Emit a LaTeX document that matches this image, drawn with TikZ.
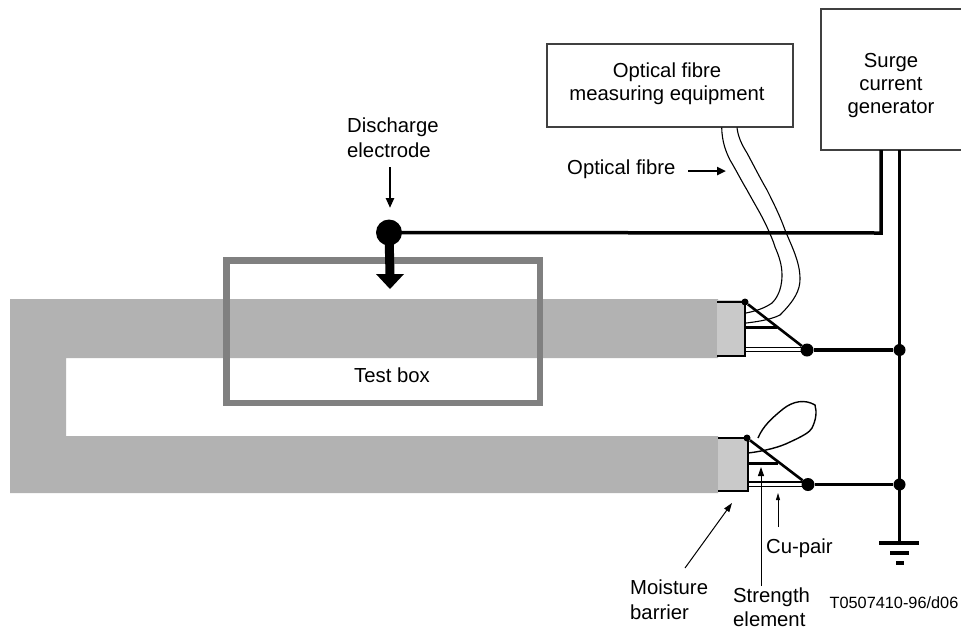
\documentclass[tikz,border=0pt]{standalone}
\usepackage{fontspec}
\setmainfont{Liberation Sans}
\usetikzlibrary{arrows.meta}
\tikzset{
  boxnode/.style={draw=black!75,line width=1.3pt,fill=white,anchor=north west,inner sep=0pt,outer sep=0pt},
  lab/.style={align=center,inner sep=0pt,font=\fontsize{20.3}{23}\selectfont},
  labl/.style={align=left,inner sep=0pt,anchor=north west,font=\fontsize{20.3}{25}\selectfont},
  wire/.style={line width=3.5pt,black},
  thinwire/.style={line width=1.2pt,black},
  fibre/.style={line width=1.1pt,black},
  dotn/.style={circle,fill=black,inner sep=0pt,minimum size=#1},
  ptr/.style={line width=1pt,black,-{Triangle[length=9pt,width=6pt]}},
}
\begin{document}
\begin{tikzpicture}[x=1pt,y=-1pt]
\useasboundingbox (0,0) rectangle (961,630);
% cable
\fill[black!30] (10,299) -- (718,299) -- (718,358) -- (66,358) -- (66,436) -- (718,436) -- (718,493) -- (10,493) -- cycle;
% barriers
\fill[black!21] (717,300) rectangle (745,356);
\fill[black!21] (718,438) rectangle (748,491);
\draw[line width=2.2pt] (717,302) -- (745,302) -- (745,356) -- (717,356);
\draw[line width=2.2pt] (718,438) -- (748,438) -- (748,491) -- (718,491);
% test box
\node[draw=black!50,line width=6.5pt,minimum width=313.5pt,minimum height=142.5pt,inner sep=0pt,outer sep=0pt,anchor=north west] (testbox) at (226.25,260.25) {};
\node[lab] (testlab) at (392,375) {Test box};
% equipment
\node[boxnode,minimum width=246pt,minimum height=83pt] (optbox) at (547,44) {};
\node[lab] (optlab) at (667,84) {Optical fibre\\measuring equipment};
\node[minimum width=140pt,minimum height=141pt,inner sep=0pt,outer sep=0pt,anchor=north west] (surge) at (821,9) {};
\draw[black!75,line width=1.3pt] (surge.north east) -- (surge.north west) -- (surge.south west) -- (surge.south east);
\node[lab] (surgelab) at (891,85.5) {Surge\\current\\generator};
% nodes
\node[dotn=26pt] (disc) at (389,232.5) {};
\node[dotn=13pt] (d1) at (807,350) {};
\node[dotn=12pt] (d2) at (899.5,350) {};
\node[dotn=13pt] (d3) at (808,484.5) {};
\node[dotn=12pt] (d4) at (899.5,484.5) {};
\node[dotn=7pt] (t1) at (745,302) {};
\node[dotn=7pt] (t2) at (747,438) {};
\coordinate (gnd) at (899.5,543);
\coordinate (s1) at (881,150);
\coordinate (s2) at (899.5,150);
% main wires
\draw[wire] (disc.center) -- (881,233) -- (s1);
\draw[wire] (s2) -- (gnd);
\draw[wire] (d1) -- (d2);
\draw[wire] (d3) -- (d4);
% ground
\draw[line width=3.6pt] (879,543) -- (919,543);
\draw[line width=3.6pt] (890,553) -- (909,553);
\draw[line width=3.6pt] (896,563) -- (904,563);
% electrode arrow
\draw[line width=9pt] (disc.center) -- (390,275);
\fill (376,274) -- (404,274) -- (390,289) -- cycle;
\draw[line width=2.4pt,-{Triangle[length=10pt,width=8pt]}] (390,167) -- (390,208);
\node[labl] (dl) at (347,118) {Discharge\\electrode};
% fibres
\draw[fibre] (721.7,127.5) .. controls (722,142) and (726,152) .. (730,160) .. controls (736,170) and (741,180) .. (747,190)
  .. controls (754,203) and (761,214) .. (767,227) .. controls (770,234) and (773,240) .. (775,247)
  .. controls (779,256) and (782,265) .. (782,275) .. controls (782,292) and (775,300) .. (772,303)
  .. controls (765,308) and (756,311) .. (746,313);
\draw[fibre] (737,127.5) .. controls (738,137) and (742,145) .. (747,153) .. controls (754,166) and (760,178) .. (767,190)
  .. controls (774,204) and (780,216) .. (785,230) .. controls (792,247) and (800,262) .. (800,279)
  .. controls (800,290) and (795,300) .. (780,315) .. controls (770,320) and (755,322) .. (746,323);
% upper terminations
\draw[line width=2.6pt] (t1) -- (d1);
\draw[line width=3pt] (745,327) -- (777,327);
\draw[thinwire] (745,347.3) -- (d1.center |- 0,347.3);
\draw[thinwire] (745,351.2) -- (d1.center |- 0,351.2);
% lower terminations
\draw[line width=2.6pt] (t2) -- (d3);
\draw[line width=3pt] (748,463) -- (778,463);
\draw[thinwire] (748,482) -- (d3.center |- 0,482);
\draw[thinwire] (748,486.5) -- (d3.center |- 0,486.5);
\draw[fibre,line width=1.4pt] (748,453) .. controls (765,451) and (780,447) .. (790,442) .. controls (803,436) and (810,432) .. (812,428)
  .. controls (816,420) and (817,412) .. (815,405) .. controls (805,399) and (793,401) .. (783,409) .. controls (772,418) and (763,426) .. (758,438);
% labels and pointers
\node[lab,anchor=west] (ofl) at (567,169) {Optical fibre};
\draw[line width=2.6pt,-{Triangle[length=9pt,width=8pt]}] (688,171) -- (726,171);
\node[lab,anchor=west] (cu) at (766,548) {Cu-pair};
\draw[ptr,line width=0.8pt,-{Triangle[length=7pt,width=4pt]}] (778,527) -- (778,493);
\node[labl,font=\fontsize{20.3}{24}\selectfont] (se) at (733,588) {Strength\\element};
\draw[ptr] (761,586) -- (761,467);
\node[labl] (mb) at (630,580) {Moisture\\barrier};
\draw[ptr] (685,568) -- (732,503);
\node[inner sep=0pt,font=\fontsize{16.3}{19}\selectfont] (ref) at (894,603) {T0507410-96/d06};
\end{tikzpicture}
\end{document}
